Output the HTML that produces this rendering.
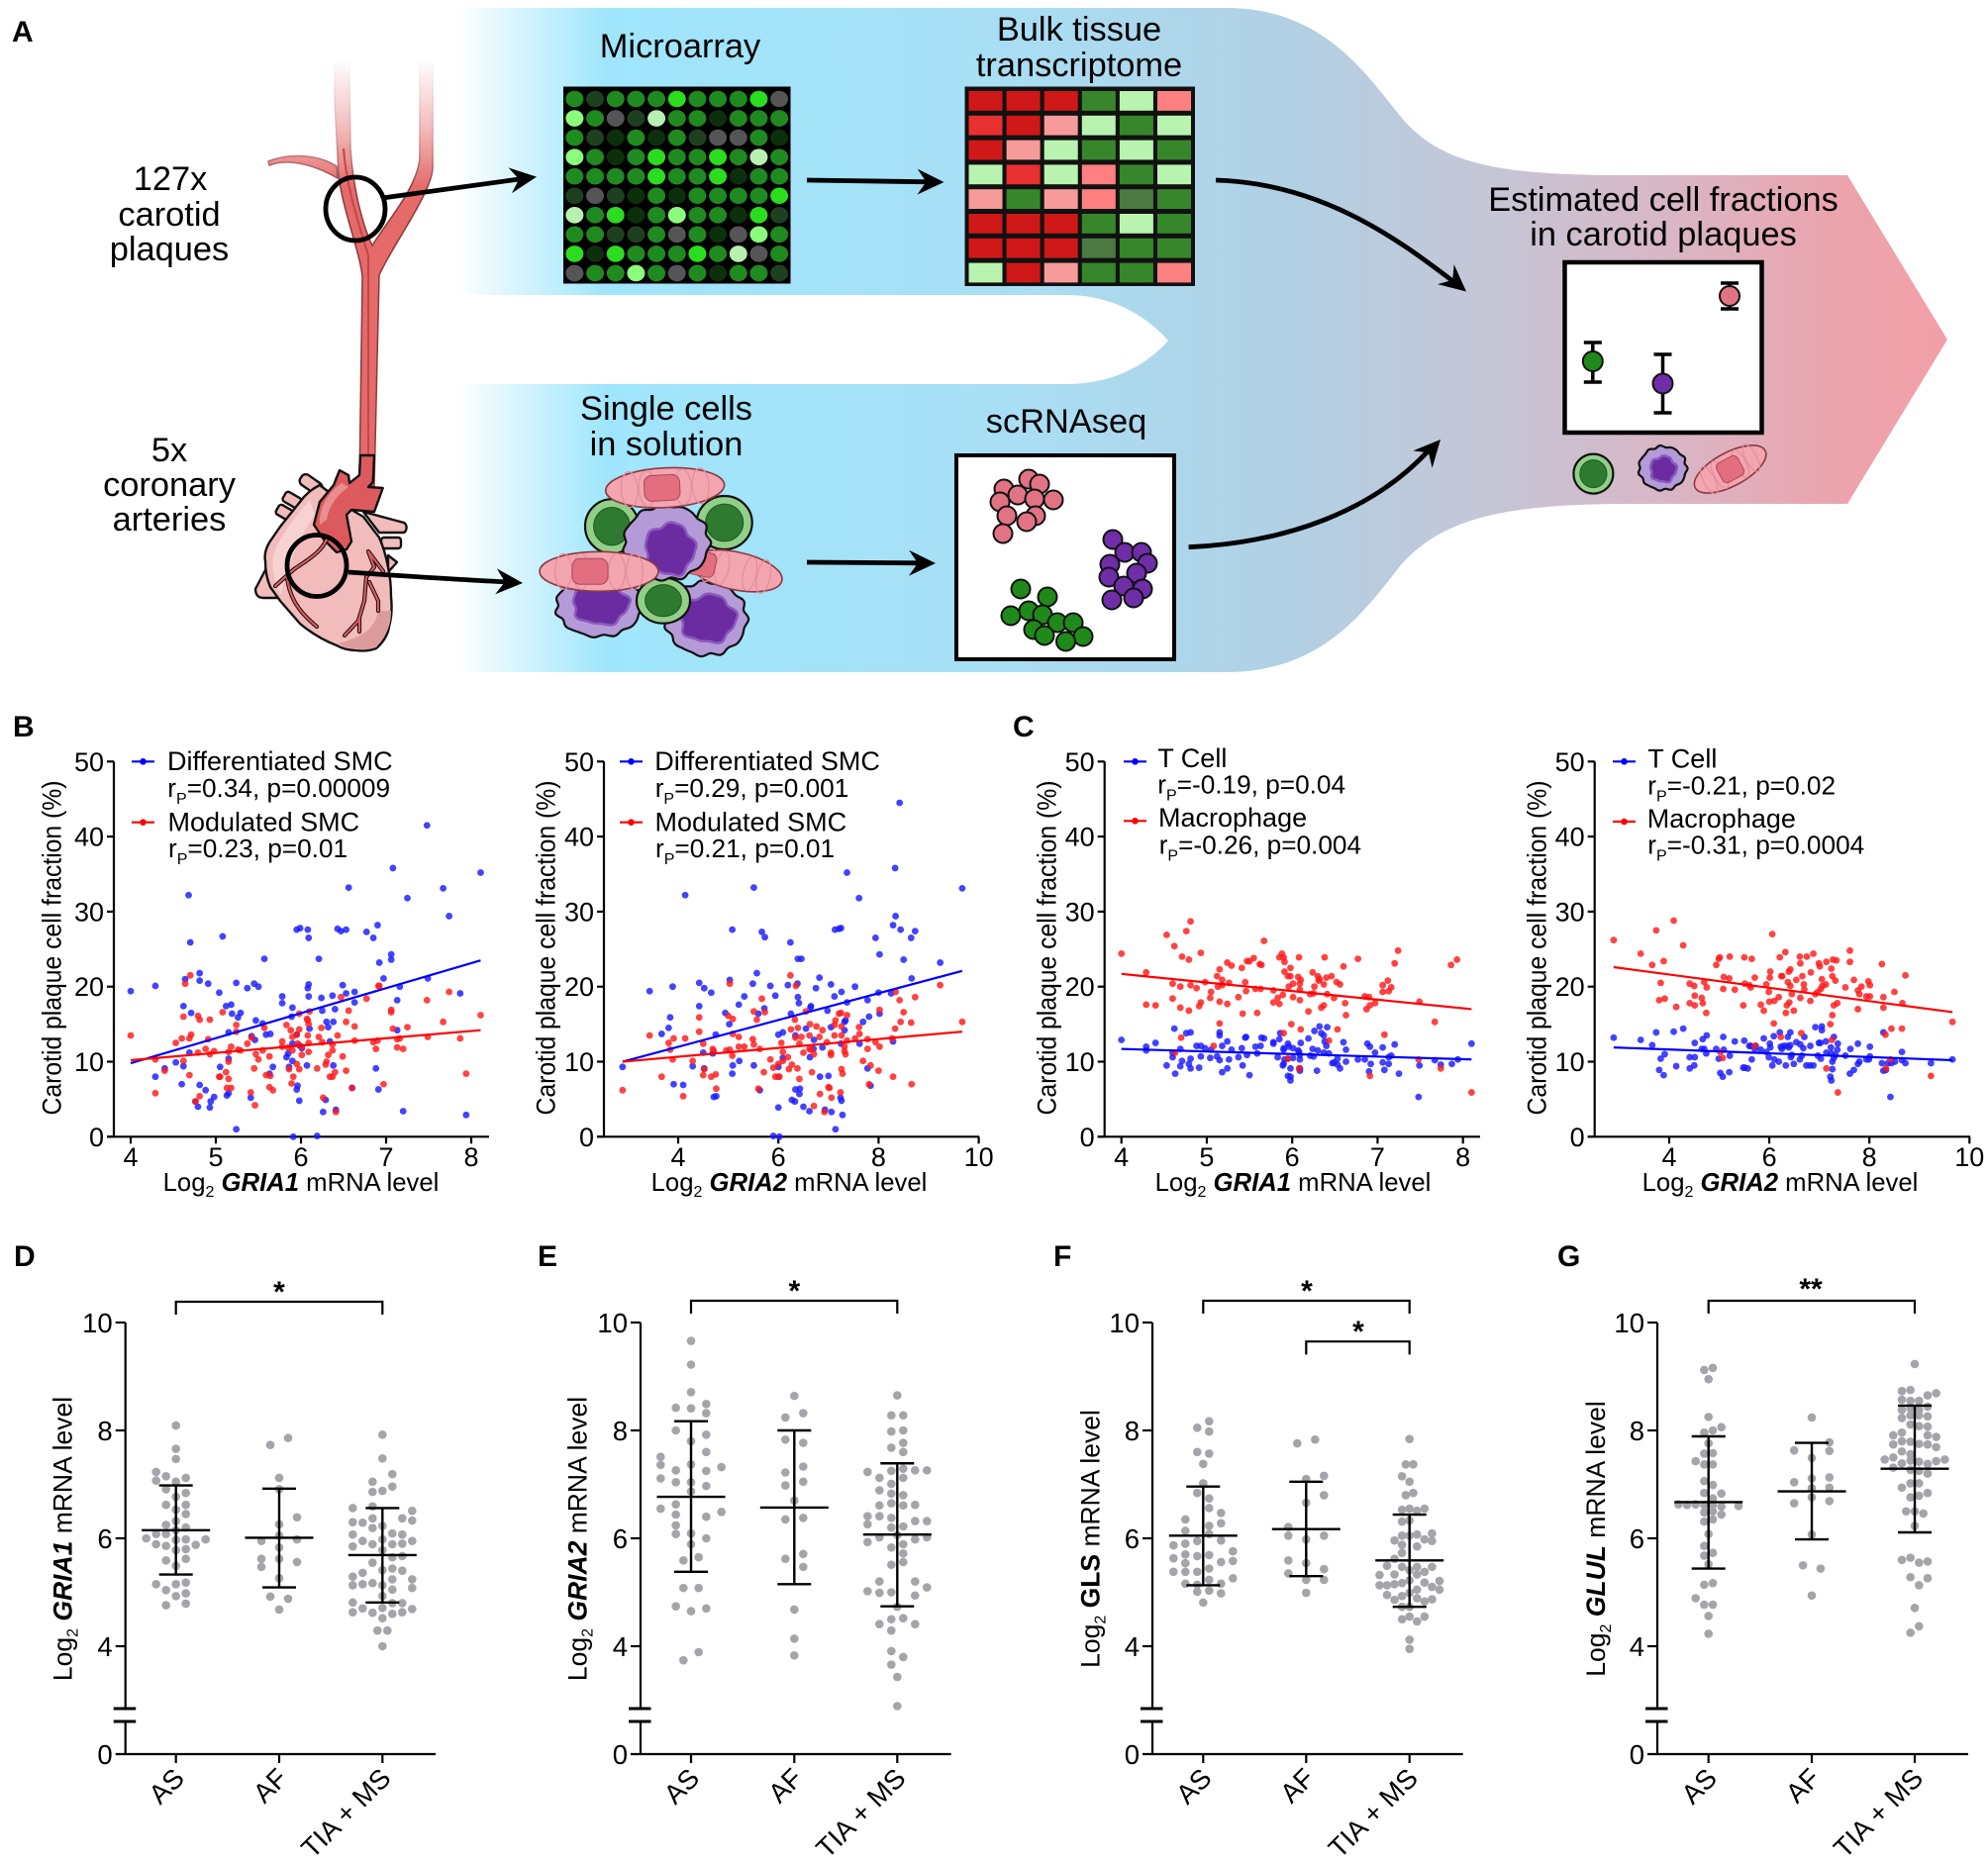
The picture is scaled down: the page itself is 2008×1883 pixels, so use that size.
<!DOCTYPE html>
<html lang="en">
<head>
<meta charset="utf-8">
<title>Carotid plaque cell fractions and GRIA1, GRIA2, GLS, GLUL expression</title>
<style>
html,body{margin:0;padding:0;background:#fff;}
svg{display:block;font-family:"Liberation Sans",Arial,sans-serif;fill:#000;}
.a{font-size:34.4px;text-anchor:middle;}
.tag{font-size:30px;font-weight:bold;}
.leg{font-size:27px;}
.legs{font-size:26.2px;}
.sub{font-size:16px;}
.xt{font-size:25.7px;text-anchor:middle;}
.yt{font-size:27px;text-anchor:middle;}
.st{font-size:26.5px;text-anchor:middle;}
.star{font-size:30px;font-weight:bold;text-anchor:middle;}
.i{font-weight:bold;font-style:italic;}
.b{font-weight:bold;}
</style>
</head>
<body>
<svg id="figure" xmlns="http://www.w3.org/2000/svg" width="2008" height="1883" viewBox="0 0 2008 1883">
<defs>
<linearGradient id="bandGrad" gradientUnits="userSpaceOnUse" x1="460" y1="0" x2="1967" y2="0">
<stop offset="0" stop-color="#ffffff"/><stop offset="0.101" stop-color="#9fe6fc"/><stop offset="0.36" stop-color="#a8dff5"/><stop offset="0.56" stop-color="#b2d0e4"/><stop offset="0.693" stop-color="#c5c6d6"/><stop offset="0.827" stop-color="#dbb4c3"/><stop offset="0.933" stop-color="#eca3ac"/><stop offset="1" stop-color="#f2a0a8"/>
</linearGradient>
<linearGradient id="arteryGrad" gradientUnits="userSpaceOnUse" x1="0" y1="60" x2="0" y2="190">
<stop offset="0" stop-color="#ffffff"/><stop offset="0.5" stop-color="#f4c0c0"/><stop offset="1" stop-color="#e56a6a"/>
</linearGradient>
<linearGradient id="arteryEdge" gradientUnits="userSpaceOnUse" x1="0" y1="60" x2="0" y2="190">
<stop offset="0" stop-color="#ffffff"/><stop offset="0.6" stop-color="#d9a0a0"/><stop offset="1" stop-color="#8a3a3a"/>
</linearGradient>
</defs>

<g id="panel-a">
<text class="tag" x="12" y="42">A</text>
<path fill="url(#bandGrad)" d="M460,8 L1238,8 C1335,8 1378,72 1414,117 C1455,167 1515,177 1645,177 L1866,177 L1967,343 L1866,509 L1645,509 C1515,509 1455,525 1414,572 C1378,618 1335,679 1238,679 L460,679 L460,388 L1077,388 C1122,388 1157,370 1180,344 C1157,318 1122,298 1077,298 L460,298 Z"/>

<g>
<path fill="url(#arteryGrad)" stroke="url(#arteryEdge)" stroke-width="1.5" d="M340,168 C320,155 290,155 271,163 L272,167 C290,160 315,165 341,180 Z"/>
<path fill="url(#arteryGrad)" stroke="url(#arteryEdge)" stroke-width="1.5" d="M338,30 L352,30 L354,150 C356,185 365,225 376,248 C392,222 421,190 424,160 L424,30 L437,30 L437,170 C436,195 395,250 383,278 L378,491 L363,491 L366,280 C364,255 345,210 342,175 L338,100 Z"/>
<path fill="none" stroke="#c04848" stroke-width="2" d="M347,150 C350,190 362,225 372,258 L372,480"/>
</g>

<g stroke="#111" stroke-width="2.4" stroke-linejoin="round">
<rect x="302" y="483" width="24" height="12" rx="5" transform="rotate(35 314 489)" fill="#f2bcbc"/>
<rect x="286" y="499.5" width="18" height="11" rx="3" transform="rotate(30 295 505)" fill="#f2bcbc"/>
<rect x="279" y="512" width="16" height="11" rx="3" transform="rotate(30 287 518)" fill="#f2bcbc"/>
<path fill="#f2bcbc" d="M367,517 L408,528 C412,530 411,538 407,538 L383,538 Z"/>
<rect x="385" y="543" width="20" height="11" rx="3" fill="#f2bcbc"/>
<path fill="#f2bcbc" d="M392,561 L401,568 L392,578 Z"/>
<path fill="#f2bcbc" d="M270,572 L258,595 C258,602 262,604 266,604 L280,604 Z"/>
<path fill="#f2bcbc" d="M323,490 C315,494 311,498 307,502 L283,532 L272,548 C268,555 267,562 268,567 C268,578 270,586 273,593 L283,607 L303,630 C315,640 327,647 340,652 C347,656 353,657 360,657 C368,658 375,657 380,655 C388,648 392,640 393,633 C396,622 396,612 395,603 C395,592 394,582 392,573 C390,562 387,552 383,543 L367,522 L355,515 Z"/>
<path fill="#dd9c9c" stroke="none" d="M342,650 C358,645 378,640 382,617 L395,617 C395,630 392,640 380,654 C368,658 352,657 342,650 Z"/>
<path fill="#f7d2d2" stroke="none" d="M313,505 C300,520 280,545 276,562 C274,580 280,595 284,600 C290,575 300,545 318,520 Z"/>
<path fill="#dc5a5e" d="M378,460 L376.7,487 L372,492 L386.7,493 L378,517 L355,515 L350,520 L355,547 L350,555 L340,558 L327,545 L317,530 L323,507 L337,490 L343,475 L352,480 L353,488 L363,480 L364,460 Z"/>
<path fill="#e88e90" stroke="none" d="M345,488 C330,498 322,515 323,530 L330,525 C332,512 340,500 352,492 Z"/>
<g fill="none" stroke-linecap="round">
<path stroke="#111" stroke-width="4.2" d="M330,545 C325,555 320,560 297,575 L278,592 M290,583 C292,600 298,615 320,633"/>
<path stroke="#dc5a5e" stroke-width="2.2" d="M330,545 C325,555 320,560 297,575 L278,592 M290,583 C292,600 298,615 320,633"/>
<path stroke="#111" stroke-width="4.2" d="M372,557 L387,577 M372,557 L378,573 L370,583 L368,607 L362,627 L348,642 M373,588 L382,607 L382,617 M363,623 L363,638"/>
<path stroke="#dc5a5e" stroke-width="2.2" d="M372,557 L387,577 M372,557 L378,573 L370,583 L368,607 L362,627 L348,642 M373,588 L382,607 L382,617 M363,623 L363,638"/>
</g>
</g>
<ellipse cx="359" cy="211" rx="30" ry="32" fill="none" stroke="#000" stroke-width="4.8"/>
<ellipse cx="320" cy="571.5" rx="30" ry="31" fill="none" stroke="#000" stroke-width="4.8"/>

<g>
<text class="a" x="172" y="192">127x</text>
<text class="a" x="171" y="228">carotid</text>
<text class="a" x="171" y="263">plaques</text>
<text class="a" x="171" y="466">5x</text>
<text class="a" x="171" y="501">coronary</text>
<text class="a" x="171" y="536">arteries</text>
</g>
<text class="a" x="687" y="58">Microarray</text>
<text class="a" x="1090" y="41">Bulk tissue</text>
<text class="a" x="1090" y="77">transcriptome</text>
<text class="a" x="673" y="424">Single cells</text>
<text class="a" x="673" y="460">in solution</text>
<text class="a" x="1077" y="437">scRNAseq</text>
<text class="a" x="1680" y="213">Estimated cell fractions</text>
<text class="a" x="1680" y="248">in carotid plaques</text>

<g id="microarray"></g>
<g id="bulkmap"></g>
<g id="cellpile"></g>

<g>
<rect x="966" y="460" width="220" height="206" fill="#fff" stroke="#000" stroke-width="4"/>
<g fill="#e27384" stroke="#111" stroke-width="2">
<circle cx="1039" cy="484" r="9.5"/><circle cx="1050" cy="489" r="9.5"/><circle cx="1014" cy="494" r="9.5"/><circle cx="1028" cy="500" r="9.5"/><circle cx="1010" cy="507" r="9.5"/><circle cx="1045" cy="504" r="9.5"/><circle cx="1064" cy="505" r="9.5"/><circle cx="1017" cy="521" r="9.5"/><circle cx="1046" cy="521" r="9.5"/><circle cx="1037" cy="527" r="9.5"/><circle cx="1013" cy="539" r="9.5"/>
</g>
<g fill="#6f2da8" stroke="#111" stroke-width="2">
<circle cx="1124" cy="545" r="9.5"/><circle cx="1136" cy="558" r="9.5"/><circle cx="1153" cy="558" r="9.5"/><circle cx="1159" cy="569" r="9.5"/><circle cx="1121" cy="570" r="9.5"/><circle cx="1148" cy="579" r="9.5"/><circle cx="1120" cy="583" r="9.5"/><circle cx="1135" cy="592" r="9.5"/><circle cx="1154" cy="595" r="9.5"/><circle cx="1145" cy="604" r="9.5"/><circle cx="1123" cy="606" r="9.5"/>
</g>
<g fill="#1f8a1a" stroke="#111" stroke-width="2">
<circle cx="1031" cy="595" r="9.5"/><circle cx="1058" cy="603" r="9.5"/><circle cx="1021" cy="622" r="9.5"/><circle cx="1039" cy="617" r="9.5"/><circle cx="1053" cy="621" r="9.5"/><circle cx="1044" cy="636" r="9.5"/><circle cx="1068" cy="629" r="9.5"/><circle cx="1084" cy="629" r="9.5"/><circle cx="1055" cy="642" r="9.5"/><circle cx="1094" cy="643" r="9.5"/><circle cx="1076.5" cy="648" r="9.5"/>
</g>
</g>

<g>
<rect x="1580.5" y="265" width="199" height="172" fill="#fff" stroke="#000" stroke-width="4.5"/>
<g stroke="#000" stroke-width="3.5" fill="none">
<path d="M1608.8,346 V386 M1599.8,346 H1617.8 M1599.8,386 H1617.8"/>
<path d="M1679.5,358 V417 M1670.5,358 H1688.5 M1670.5,417 H1688.5"/>
<path d="M1747,286 V312 M1738,286 H1756 M1738,312 H1756"/>
</g>
<circle cx="1608.8" cy="365" r="10" fill="#1f8a1a" stroke="#111" stroke-width="2"/>
<circle cx="1679.5" cy="387.5" r="10" fill="#6f2da8" stroke="#111" stroke-width="2"/>
<circle cx="1747" cy="299" r="10" fill="#e27384" stroke="#111" stroke-width="2"/>
</g>
<g id="legendcells"></g>

<g fill="none" stroke="#000" stroke-width="4.8">
<path d="M389,199.6 L528,180.5"/>
<path d="M815,182 L940,183.8"/>
<path d="M352,578 C410,582 470,586 515,588"/>
<path d="M815,568 L932,568.8"/>
<path d="M1228,182 C1332,185 1408,238 1470,286"/>
<path d="M1200.6,552.7 C1302,548 1388,515 1444,454"/>
</g>
<g fill="#000">
<path transform="translate(542,178.6) rotate(-7.8)" d="M0,0 L-27,-13 L-18,0 L-27,13 Z"/>
<path transform="translate(953.5,184) rotate(0.8)" d="M0,0 L-27,-13 L-18,0 L-27,13 Z"/>
<path transform="translate(528,589) rotate(3.6)" d="M0,0 L-27,-13 L-18,0 L-27,13 Z"/>
<path transform="translate(945,569) rotate(0.4)" d="M0,0 L-27,-13 L-18,0 L-27,13 Z"/>
<path transform="translate(1481,294.5) rotate(40)" d="M0,0 L-27,-13 L-18,0 L-27,13 Z"/>
<path transform="translate(1455,444) rotate(-48)" d="M0,0 L-27,-13 L-18,0 L-27,13 Z"/>
</g>
</g>

<g id="panel-b1">
<text class="tag" x="13" y="744">B</text>
<text class="yt" textLength="338" lengthAdjust="spacingAndGlyphs" transform="translate(61.7,957.5) rotate(-90)">Carotid plaque cell fraction (%)</text>
<text class="xt" x="304" y="1203">Log<tspan class="sub" dy="6">2</tspan><tspan dy="-6"> </tspan><tspan class="i">GRIA1</tspan> mRNA level</text>
<text class="leg" x="169" y="778">Differentiated SMC</text>
<text class="legs" x="169.3" y="805">r<tspan class="sub" dy="7">P</tspan><tspan dy="-7">=0.34, p=0.00009</tspan></text>
<text class="leg" x="169.5" y="839.3">Modulated SMC</text>
<text class="legs" x="170" y="866">r<tspan class="sub" dy="7">P</tspan><tspan dy="-7">=0.23, p=0.01</tspan></text>
</g>
<g id="panel-b2">
<text class="yt" textLength="338" lengthAdjust="spacingAndGlyphs" transform="translate(560.7,957.5) rotate(-90)">Carotid plaque cell fraction (%)</text>
<text class="xt" x="797" y="1203">Log<tspan class="sub" dy="6">2</tspan><tspan dy="-6"> </tspan><tspan class="i">GRIA2</tspan> mRNA level</text>
<text class="leg" x="661.3" y="778">Differentiated SMC</text>
<text class="legs" x="661.7" y="805">r<tspan class="sub" dy="7">P</tspan><tspan dy="-7">=0.29, p=0.001</tspan></text>
<text class="leg" x="661.5" y="839.3">Modulated SMC</text>
<text class="legs" x="662" y="866">r<tspan class="sub" dy="7">P</tspan><tspan dy="-7">=0.21, p=0.01</tspan></text>
</g>
<g id="panel-c1">
<text class="tag" x="1023" y="744">C</text>
<text class="yt" textLength="338" lengthAdjust="spacingAndGlyphs" transform="translate(1066.7,957.5) rotate(-90)">Carotid plaque cell fraction (%)</text>
<text class="xt" x="1306" y="1203">Log<tspan class="sub" dy="6">2</tspan><tspan dy="-6"> </tspan><tspan class="i">GRIA1</tspan> mRNA level</text>
<text class="leg" x="1169.3" y="775">T Cell</text>
<text class="legs" x="1169.3" y="801.7">r<tspan class="sub" dy="7">P</tspan><tspan dy="-7">=-0.19, p=0.04</tspan></text>
<text class="leg" x="1170" y="835">Macrophage</text>
<text class="legs" x="1170.7" y="862.3">r<tspan class="sub" dy="7">P</tspan><tspan dy="-7">=-0.26, p=0.004</tspan></text>
</g>
<g id="panel-c2">
<text class="yt" textLength="338" lengthAdjust="spacingAndGlyphs" transform="translate(1561.7,957.5) rotate(-90)">Carotid plaque cell fraction (%)</text>
<text class="xt" x="1798" y="1203">Log<tspan class="sub" dy="6">2</tspan><tspan dy="-6"> </tspan><tspan class="i">GRIA2</tspan> mRNA level</text>
<text class="leg" x="1664.3" y="775.7">T Cell</text>
<text class="legs" x="1664.3" y="802.3">r<tspan class="sub" dy="7">P</tspan><tspan dy="-7">=-0.21, p=0.02</tspan></text>
<text class="leg" x="1663.8" y="836">Macrophage</text>
<text class="legs" x="1664.3" y="862.7">r<tspan class="sub" dy="7">P</tspan><tspan dy="-7">=-0.31, p=0.0004</tspan></text>
</g>

<g id="panel-d">
<text class="tag" x="14" y="1279">D</text>
<text class="st" transform="translate(72.7,1554.5) rotate(-90)">Log<tspan class="sub" dy="6">2</tspan><tspan dy="-6"> </tspan><tspan class="i">GRIA1</tspan> mRNA level</text>
<path fill="none" stroke="#000" stroke-width="2.2" d="M177.7,1328 V1315 H386.3 V1328"/>
<text class="star" x="282" y="1315">*</text>
</g>
<g id="panel-e">
<text class="tag" x="543" y="1279">E</text>
<text class="st" transform="translate(592.7,1554.5) rotate(-90)">Log<tspan class="sub" dy="6">2</tspan><tspan dy="-6"> </tspan><tspan class="i">GRIA2</tspan> mRNA level</text>
<path fill="none" stroke="#000" stroke-width="2.2" d="M698,1327 V1314 H906.3 V1327"/>
<text class="star" x="802.3" y="1314">*</text>
</g>
<g id="panel-f">
<text class="tag" x="1064" y="1279">F</text>
<text class="st" transform="translate(1110.7,1554.5) rotate(-90)">Log<tspan class="sub" dy="6">2</tspan><tspan dy="-6"> </tspan><tspan class="b">GLS</tspan> mRNA level</text>
<path fill="none" stroke="#000" stroke-width="2.2" d="M1215.3,1327 V1314 H1423.7 V1327"/>
<text class="star" x="1320" y="1314">*</text>
<path fill="none" stroke="#000" stroke-width="2.2" d="M1319.3,1368.4 V1355.2 H1423.7 V1368.4"/>
<text class="star" x="1372" y="1355">*</text>
</g>
<g id="panel-g">
<text class="tag" x="1573" y="1279">G</text>
<text class="st" transform="translate(1621,1554.5) rotate(-90)">Log<tspan class="sub" dy="6">2</tspan><tspan dy="-6"> </tspan><tspan class="i">GLUL</tspan> mRNA level</text>
<path fill="none" stroke="#000" stroke-width="2.2" d="M1725.7,1327 V1314 H1934 V1327"/>
<text class="star" x="1829" y="1312">**</text>
</g>
</svg>

<script>
// ---------- Scatter values [mRNA level, cell fraction %] ----------
const b1DiffSmc=[[4,19.4],[4.29,20.1],[4.29,8],[4.4,9.1],[4.53,9.9],[4.62,17.4],[4.64,21],[4.62,9.4],[4.6,7],[4.68,32.2],[4.7,25.9],[4.71,16.5],[4.69,11.2],[4.76,4.7],[4.79,4],[4.81,20.8],[4.81,21.8],[4.81,6.9],[4.88,6.2],[4.91,20.4],[4.94,4.7],[4.93,3.9],[4.98,5.3],[5.04,19.2],[5.05,9.3],[5.08,26.7],[5.12,17.4],[5.15,10.4],[5.15,13.9],[5.13,5.5],[5.15,5.8],[5.18,17.6],[5.19,16.4],[5.24,20.5],[5.24,1],[5.26,15.9],[5.29,16.5],[5.37,19.8],[5.45,20.4],[5.5,20],[5.47,15.5],[5.41,5.2],[5.42,13.4],[5.46,12.9],[5.57,23.7],[5.55,15.1],[5.59,13.6],[5.64,13.7],[5.63,8.4],[5.67,9.3],[5.78,18.7],[5.78,17.8],[5.83,10.6],[5.85,11.1],[5.86,9.3],[5.9,17.2],[5.89,16],[5.9,10.1],[5.9,12.4],[5.91,0],[5.95,27.6],[5.99,27.8],[5.95,6.3],[5.96,6.8],[5.95,13.6],[5.98,4.8],[5.98,12.2],[6.01,11.8],[6.07,9.5],[6.08,27.6],[6.09,26.5],[6.08,19.8],[6.09,20.3],[6.09,18.7],[6.1,14.4],[6.19,0.1],[6.21,23.7],[6.24,18.5],[6.25,16.8],[6.26,3.3],[6.29,4.9],[6.3,15.3],[6.32,14.6],[6.34,12.7],[6.37,18.8],[6.38,15.3],[6.38,9.5],[6.4,17],[6.41,3.6],[6.43,27.7],[6.47,27.4],[6.49,20.2],[6.53,19.1],[6.53,27.6],[6.56,33.2],[6.6,6.5],[6.63,19.3],[6.63,17.9],[6.77,27.3],[6.85,26.5],[6.88,9.1],[6.9,28.2],[6.91,6.3],[6.92,23.2],[6.97,21.1],[7.06,24.3],[7.06,23.6],[7.08,35.8],[7.13,18.2],[7.13,14.2],[7.16,20],[7.2,3.4],[7.25,31.8],[7.48,41.5],[7.49,21.1],[7.67,33.1],[7.74,29.4],[7.87,19.1],[7.94,2.9],[8.11,35.2]];
const b1ModSmc=[[4,13.5],[4.29,10.3],[4.29,5.8],[4.4,8.8],[4.53,12.5],[4.6,13.1],[4.62,16],[4.64,20.4],[4.62,10.1],[4.69,13.1],[4.71,13.6],[4.7,21.5],[4.69,8.2],[4.76,4.7],[4.79,16.1],[4.81,15.6],[4.79,11.2],[4.81,5.4],[4.88,11.7],[4.91,13],[4.93,15.6],[4.93,11],[4.98,11.4],[5.04,8],[5.05,8],[5.08,16.6],[5.12,8.6],[5.15,7.7],[5.15,10],[5.13,6.5],[5.15,11.3],[5.18,6.5],[5.18,12],[5.24,14.9],[5.24,14],[5.26,11.6],[5.29,11.5],[5.37,12.4],[5.41,5.9],[5.42,13.2],[5.45,9.1],[5.46,4.2],[5.47,11],[5.5,10.3],[5.55,11.5],[5.57,14.5],[5.59,8.2],[5.63,10.7],[5.63,6.6],[5.64,8.1],[5.67,6.2],[5.78,12.7],[5.78,12],[5.83,14.9],[5.85,11.9],[5.86,9],[5.88,14.2],[5.89,7.1],[5.9,13.3],[5.9,11.5],[5.91,8],[5.95,13.6],[5.95,9.7],[5.96,12.4],[5.98,14.3],[5.98,9],[5.98,16.4],[6.01,10.9],[6.01,12],[6.07,15.7],[6.08,15.5],[6.09,15],[6.08,13.5],[6.09,12.5],[6.09,11.3],[6.1,16.7],[6.19,9.1],[6.21,13.3],[6.24,14.5],[6.25,12.6],[6.26,5.2],[6.29,9.6],[6.3,10],[6.32,10.9],[6.34,8],[6.37,8],[6.37,11.5],[6.37,12.3],[6.4,8.6],[6.41,3.3],[6.43,13.5],[6.47,18.6],[6.49,10.7],[6.53,8.8],[6.53,15.3],[6.56,16.8],[6.6,6.5],[6.63,14.7],[6.63,12.8],[6.77,18.4],[6.85,12.6],[6.88,11.7],[6.9,12.8],[6.91,20.1],[6.92,20.1],[6.97,7],[7.06,16.9],[7.06,16.6],[7.08,14.4],[7.13,11.9],[7.13,13],[7.16,13.1],[7.2,11.7],[7.25,14.6],[7.48,18.2],[7.49,13.3],[7.67,15.3],[7.74,19.3],[7.87,13.1],[7.94,8.4],[8.11,16.2]];
const b2DiffSmc=[[2.89,9.3],[3.43,19.4],[3.67,13.7],[3.81,14.5],[3.84,15.9],[3.89,20],[3.91,7],[4.1,6.9],[4.14,32.2],[4.29,9.4],[4.42,20.5],[4.42,17.4],[4.5,11.2],[4.52,9.1],[4.52,19.8],[4.66,19.2],[4.69,11.1],[4.71,5.3],[4.76,5.4],[4.75,13.6],[4.94,16.5],[5.02,15],[5.03,20.9],[5.08,8.4],[5.09,9.5],[5.08,27.6],[5.21,17.6],[5.22,10.1],[5.32,18.7],[5.49,20.4],[5.51,9.5],[5.51,33.2],[5.57,21.8],[5.6,16.4],[5.63,6.2],[5.67,27.3],[5.72,17.1],[5.73,26.6],[5.84,20.1],[5.9,0.1],[5.94,18.8],[6,3.9],[6,13.6],[6,9.3],[6.02,0],[6.09,13.9],[6.09,10.5],[6.19,20.2],[6.24,25.9],[6.25,16.4],[6.27,4.9],[6.33,4.7],[6.34,13.5],[6.34,6.3],[6.38,20.4],[6.39,23.7],[6.46,23.7],[6.39,18.6],[6.41,17.8],[6.43,6.4],[6.42,5.7],[6.5,4],[6.55,14.4],[6.62,3.4],[6.63,10.6],[6.65,17.4],[6.64,17.2],[6.7,11.7],[6.71,12.9],[6.75,19.8],[6.82,21.2],[6.83,8],[6.88,11.9],[6.93,3.6],[6.98,16.8],[7,8.1],[7.05,20.3],[7.06,3.3],[7.05,14.6],[7.12,18.7],[7.13,27.6],[7.14,1],[7.21,27.7],[7.25,27.8],[7.24,5.2],[7.26,4.8],[7.28,2.9],[7.26,19.3],[7.25,12.4],[7.32,15.3],[7.32,14.2],[7.34,15.5],[7.37,35.2],[7.37,17.9],[7.53,20],[7.61,31.8],[7.62,12.4],[7.69,15.3],[7.78,18.2],[7.78,9.1],[7.81,16],[7.84,6.8],[7.94,26.5],[8,19.2],[8.02,24.3],[8.02,16.4],[8.25,19.1],[8.29,12.7],[8.29,28.2],[8.33,35.8],[8.34,29.4],[8.42,44.5],[8.44,27.6],[8.5,23.6],[8.65,26.5],[8.66,21.1],[8.73,27.4],[9.23,23.2],[9.67,33.1]];
const b2ModSmc=[[2.89,6.2],[3.43,13.5],[3.67,8],[3.81,12.5],[3.84,11.6],[3.89,10.3],[3.91,13.1],[4.1,5.4],[4.14,13.1],[4.29,10.1],[4.42,15.9],[4.42,14],[4.5,12.4],[4.5,8.2],[4.52,9],[4.66,8],[4.69,11.7],[4.71,11.4],[4.75,8.3],[4.76,6.4],[4.96,11.5],[5,16.1],[5.03,20.4],[5.03,11.6],[5.09,15.7],[5.09,13.7],[5.08,10.8],[5.21,12],[5.21,13.3],[5.32,12],[5.49,13],[5.51,16.7],[5.51,12.3],[5.57,15.6],[5.6,6.4],[5.63,11.7],[5.67,18.4],[5.71,8.6],[5.73,16.6],[5.84,10.3],[5.9,9.2],[5.94,8],[6,8],[6.02,8],[6,9.7],[6.06,12.5],[6.09,11.3],[6.09,10.1],[6.19,10.6],[6.21,9],[6.24,21.5],[6.25,14.3],[6.27,9.6],[6.33,15.6],[6.34,13.2],[6.35,20.1],[6.38,9.1],[6.39,14.5],[6.42,12.4],[6.42,7.7],[6.46,13.3],[6.5,11.2],[6.55,16.7],[6.62,11.7],[6.63,15],[6.62,13.5],[6.65,11.6],[6.67,8.6],[6.71,4.1],[6.71,11],[6.76,14.7],[6.82,13.3],[6.83,5.7],[6.88,14.2],[6.92,3.3],[6.97,12.6],[7,6.6],[7.02,6.5],[7.05,11.2],[7.05,10.9],[7.06,5.2],[7.12,14.9],[7.12,13.5],[7.14,15.5],[7.21,16.4],[7.25,16.5],[7.24,5.9],[7.26,13.5],[7.26,9],[7.28,8.4],[7.26,14.7],[7.32,11.4],[7.32,12],[7.34,11],[7.37,16.2],[7.37,12.8],[7.53,13.1],[7.61,14.6],[7.62,13.7],[7.69,10.1],[7.78,13],[7.78,11.7],[7.81,7],[7.84,9.5],[7.94,12.6],[8,8.8],[8.02,12],[8.02,16.9],[8.27,13.1],[8.29,8],[8.33,14.4],[8.34,19.3],[8.42,18.2],[8.44,15.3],[8.5,16.6],[8.65,15.2],[8.66,7],[8.73,18.6],[9.23,20.2],[9.67,15.3]];
const c1TCell=[[4,12.9],[4.29,12],[4.29,11.5],[4.4,12.5],[4.53,9.5],[4.6,11.2],[4.62,14.4],[4.63,8.4],[4.6,10.6],[4.69,9.4],[4.69,11.7],[4.71,10.1],[4.76,13.8],[4.81,10.4],[4.79,9.7],[4.81,13.9],[4.81,9.1],[4.88,12.1],[4.91,9.2],[4.93,12.1],[4.93,10.7],[4.98,11.8],[5.04,10.5],[5.05,11.6],[5.12,10.7],[5.15,13.5],[5.15,13.9],[5.15,10.2],[5.18,12.1],[5.18,8.6],[5.24,12.7],[5.24,9.1],[5.26,10.3],[5.29,11.6],[5.37,10.6],[5.41,11.8],[5.42,9.5],[5.45,13.2],[5.46,13.3],[5.47,10.9],[5.5,8.2],[5.57,12],[5.59,11.1],[5.64,13.2],[5.63,12.1],[5.67,13.1],[5.78,12.4],[5.78,12.6],[5.85,13],[5.83,10.6],[5.86,13.8],[5.9,11.6],[5.9,11.8],[5.89,9.5],[5.9,9.7],[5.91,10.3],[5.95,12.4],[5.96,12],[5.95,10.4],[5.95,8.1],[5.98,8],[5.98,7.5],[5.98,9.1],[6.01,11.8],[6.01,10.5],[6.07,11.5],[6.08,11.3],[6.09,10.9],[6.09,10.3],[6.09,9.1],[6.09,8.8],[6.1,12.5],[6.19,13.1],[6.21,10.8],[6.24,11.7],[6.25,10.7],[6.26,14.1],[6.29,8.8],[6.3,11.5],[6.32,14.7],[6.34,13.8],[6.37,13.5],[6.38,12.7],[6.37,11.2],[6.4,12.1],[6.41,14.6],[6.43,11.1],[6.47,9.8],[6.49,9.9],[6.53,10.4],[6.53,9.6],[6.56,9.1],[6.6,12.6],[6.63,11.6],[6.63,10],[6.77,10.3],[6.85,10.3],[6.88,12.4],[6.9,8.7],[6.91,12],[6.92,9.7],[6.97,11.2],[7.06,11.9],[7.06,9.9],[7.08,8.9],[7.13,9.7],[7.13,10.6],[7.16,10.8],[7.2,12.3],[7.25,8.4],[7.48,5.3],[7.49,9.5],[7.67,10.2],[7.74,9.6],[7.87,9.7],[7.94,10.3],[8.1,12.4]];
const c1Macrophage=[[4,24.4],[4.29,21.9],[4.29,17.6],[4.4,17.5],[4.53,26.9],[4.6,20.4],[4.6,18.4],[4.62,25.4],[4.63,11.2],[4.69,17.2],[4.69,20],[4.7,13.2],[4.71,24],[4.76,27.4],[4.79,23.6],[4.79,16.8],[4.81,28.7],[4.81,20.2],[4.88,19.8],[4.91,17.4],[4.93,24.5],[4.93,17.9],[4.98,20.6],[5.04,18.5],[5.05,19.3],[5.08,12.1],[5.12,21.4],[5.15,15.1],[5.15,22.3],[5.13,20],[5.15,18],[5.18,20.9],[5.18,20.2],[5.24,23.2],[5.24,17.7],[5.26,20.5],[5.29,22.8],[5.37,18.6],[5.41,22.5],[5.42,16.4],[5.45,20.6],[5.46,19.4],[5.47,23.4],[5.5,23.4],[5.55,23.8],[5.57,19.7],[5.59,16.5],[5.63,19.7],[5.62,23],[5.64,22.9],[5.67,26.1],[5.78,19.5],[5.78,17.9],[5.83,18.5],[5.85,17.7],[5.85,23.9],[5.88,24.4],[5.9,23.9],[5.89,18.9],[5.9,13.8],[5.91,23.3],[5.91,22],[5.95,21.4],[5.96,20],[5.95,10.4],[5.98,22.5],[5.98,21.4],[5.99,15],[6.01,18.6],[6.01,20.4],[6.07,21.3],[6.08,9.1],[6.08,23.9],[6.09,20.4],[6.09,19.6],[6.09,18.2],[6.1,14.3],[6.1,20.9],[6.19,16.7],[6.21,19],[6.24,21.9],[6.25,19.1],[6.26,20],[6.3,21.4],[6.31,20.8],[6.32,21],[6.34,17.2],[6.37,17.5],[6.37,20.3],[6.38,23.9],[6.4,21.2],[6.41,19],[6.43,12.8],[6.46,21.4],[6.49,18.5],[6.52,20.6],[6.53,14.3],[6.56,20.3],[6.6,22.7],[6.62,17.8],[6.63,16.2],[6.77,23.7],[6.85,18.7],[6.87,17],[6.9,18.6],[6.91,17.5],[6.91,8.1],[6.97,17.8],[7.06,20.2],[7.06,19.3],[7.08,13.6],[7.12,20.8],[7.13,19.4],[7.16,19.9],[7.2,23.1],[7.24,24.8],[7.48,10.3],[7.49,18],[7.67,15.3],[7.74,9.1],[7.86,22.9],[7.93,23.6],[8.1,5.9]];
const c2TCell=[[2.89,13.2],[3.43,12.9],[3.66,12.2],[3.74,13.9],[3.8,8.9],[3.83,10.4],[3.89,8.2],[3.91,11],[4.09,14],[4.14,9.4],[4.28,14.4],[4.41,10.6],[4.41,9.1],[4.5,9.5],[4.51,12.5],[4.51,10.6],[4.65,11.7],[4.67,13],[4.7,11.7],[4.74,11.1],[4.75,13.5],[4.94,11.7],[4.99,10.4],[5.02,8.5],[5.08,13.3],[5.07,8],[5.09,11.6],[5.2,8.6],[5.21,10.8],[5.31,12.7],[5.48,9.2],[5.5,12.8],[5.51,9.2],[5.57,9.1],[5.6,12.1],[5.63,12.1],[5.65,10.3],[5.71,11.7],[5.73,12.1],[5.83,11.6],[5.89,13.1],[5.94,11.3],[5.99,10.6],[6.01,12.4],[6.02,11.9],[6.06,9.5],[6.09,13.4],[6.1,10.3],[6.19,10],[6.21,13.9],[6.23,12],[6.25,11.7],[6.29,12.1],[6.33,9.5],[6.35,12.1],[6.37,13.3],[6.39,11.9],[6.42,13.9],[6.42,12.2],[6.43,10.6],[6.45,10.9],[6.49,9.7],[6.54,12.6],[6.62,12.3],[6.61,10.3],[6.65,10.8],[6.68,11.8],[6.7,13.3],[6.74,9.5],[6.82,12.1],[6.81,9.5],[6.88,9.5],[6.92,14.6],[6.97,10.8],[6.99,12.5],[7.02,12.5],[7.03,10.4],[7.05,14.7],[7.05,14.2],[7.13,12.7],[7.14,11.2],[7.22,8],[7.24,7.5],[7.26,9],[7.23,11.9],[7.26,10],[7.24,11.1],[7.29,13.3],[7.29,10.5],[7.32,10.9],[7.36,11.6],[7.37,12.4],[7.52,10.8],[7.61,8.4],[7.62,11.7],[7.69,8.9],[7.77,12.4],[7.77,9.7],[7.8,10],[7.94,10.3],[7.99,10.3],[8.01,12],[8.01,10.7],[8.25,9.8],[8.28,13.9],[8.28,8.8],[8.33,8.9],[8.37,9.8],[8.42,5.3],[8.44,9.8],[8.51,10],[8.65,11.3],[8.65,10.2],[8.72,9.8],[9.23,9.8],[9.66,10.3]];
const c2Macrophage=[[2.89,26.2],[3.43,24.4],[3.66,22.9],[3.74,27.5],[3.8,18.2],[3.83,20.5],[3.89,23.4],[3.91,18.4],[4.09,28.8],[4.14,17.3],[4.28,25.5],[4.41,20.4],[4.41,17.8],[4.5,20.1],[4.51,18.8],[4.51,17.5],[4.65,18.5],[4.67,17.8],[4.7,20.6],[4.74,16.5],[4.75,19.9],[4.94,22.9],[4.99,23.7],[5.01,23.9],[5.02,11.3],[5.08,19.7],[5.09,21.3],[5.07,10.5],[5.2,21.1],[5.21,24],[5.31,19.6],[5.48,17.5],[5.5,23.9],[5.51,20.4],[5.6,20.2],[5.63,19.9],[5.65,23.7],[5.71,21.2],[5.71,12.1],[5.83,17.6],[5.89,16.8],[5.94,20.3],[5.99,19.3],[6.01,21.2],[6.02,22],[6,18],[6.06,27],[6.09,15.1],[6.1,18.1],[6.19,18.6],[6.21,23.9],[6.23,13.3],[6.24,21.4],[6.26,21.4],[6.32,24.6],[6.33,16.5],[6.35,17.5],[6.37,20.6],[6.39,22],[6.42,22.3],[6.4,17.9],[6.42,20.1],[6.45,19],[6.49,16.8],[6.54,20.9],[6.61,24],[6.62,23.1],[6.62,18.5],[6.64,13.8],[6.66,21.4],[6.69,20.3],[6.7,19.6],[6.75,24],[6.82,18.1],[6.83,21.9],[6.88,24.4],[6.92,19],[6.97,19.3],[6.99,23.1],[7.01,22.7],[7.03,19.7],[7.05,21],[7.06,20.1],[7.13,20.3],[7.14,23.3],[7.14,9.1],[7.22,15],[7.24,22.4],[7.26,16.2],[7.26,21.4],[7.25,12.9],[7.27,23.6],[7.29,17.5],[7.32,20.8],[7.34,23.5],[7.37,5.9],[7.36,17.8],[7.52,19.9],[7.61,24.8],[7.61,23.3],[7.69,20.9],[7.77,17],[7.77,19.5],[7.8,19],[7.84,20],[7.94,18.7],[7.98,20.7],[8.01,20.2],[8.01,18.7],[8.25,23],[8.28,18.6],[8.28,17.2],[8.32,13.6],[8.33,9.1],[8.42,10.3],[8.44,14.4],[8.5,19.3],[8.65,14.4],[8.66,17.8],[8.72,21.5],[9.23,8.1],[9.66,15.3]];
// Regression line end points
const b1DiffFit=[[4,9.8],[8.11,23.5]];
const b1ModFit=[[4,10.2],[8.11,14.2]];
const b2DiffFit=[[2.89,10],[9.67,22.1]];
const b2ModFit=[[2.89,10],[9.67,14]];
const c1TCellFit=[[4,11.7],[8.1,10.3]];
const c1MacFit=[[4,21.7],[8.1,17]];
const c2TCellFit=[[2.89,11.9],[9.66,10.2]];
const c2MacFit=[[2.89,22.6],[9.66,16.6]];
// Tick labels
const fractionTicks=[0,10,20,30,40,50];
const gria1Ticks=[4,5,6,7,8];
const gria2Ticks=[4,6,8,10];
const logTicks=[10,8,6,4];
const groupNames=['AS','AF','TIA + MS'];

// ---------- Group values [swarm slot, log2 level] ----------
const dAS=[[0,8.09],[0,7.66],[0,7.47],[-2,7.23],[-1,7.15],[1,7.12],[-2,7.07],[0,7.05],[-1,6.91],[1,6.84],[0,6.77],[-1,6.62],[1,6.62],[0,6.53],[1,6.45],[0,6.32],[-1,6.25],[1,6.2],[0,6.15],[-2,6.08],[-1,6.08],[-3,6],[0,5.97],[1,5.98],[3,5.98],[-2,5.89],[-1,5.86],[2,5.88],[0,5.78],[1,5.8],[-1,5.59],[1,5.62],[0,5.49],[-2,5.15],[0,5.15],[1,5.18],[-1,5.04],[1,4.98],[0,4.93],[-1,4.76],[1,4.79]];
const dAF=[[1,7.86],[-1,7.73],[0,7.12],[0,6.91],[2,6.39],[0,6.26],[0,6.05],[-2,5.95],[2,5.98],[0,5.83],[-2,5.62],[0,5.62],[2,5.56],[-2,5.47],[0,5.26],[-1,4.92],[1,4.88],[0,4.68]];
const dTIA=[[0,7.92],[0,7.48],[1,7.19],[-1,7.05],[1,6.96],[-1,6.86],[0,6.88],[-3,6.56],[-1,6.59],[3,6.51],[-1,6.37],[2,6.37],[3,6.33],[-3,6.3],[-2,6.29],[0,6.23],[-1,6.19],[-3,6.07],[1,6.09],[2,6.07],[0,5.98],[-2,5.95],[-1,5.89],[1,5.89],[2,5.9],[3,5.95],[-3,5.85],[0,5.78],[1,5.65],[2,5.67],[-1,5.55],[1,5.44],[0,5.41],[2,5.4],[-2,5.36],[-3,5.29],[1,5.24],[3,5.24],[-1,5.17],[-3,5.13],[-2,5.15],[0,5.13],[1,5.05],[3,5.08],[0,4.93],[-3,4.81],[1,4.8],[2,4.8],[0,4.71],[-2,4.7],[3,4.69],[-3,4.63],[-1,4.62],[1,4.6],[2,4.63],[0,4.52],[-0.5,4.29],[0.5,4.29],[0,4]];
const dMeans=[6.15,6.01,5.69];
const dUpper=[6.98,6.92,6.56];
const dLower=[5.33,5.09,4.81];
const eAS=[[0,9.66],[0,9.22],[0,8.71],[-2,8.42],[0,8.41],[2,8.49],[2,8.32],[-2,8],[2,7.92],[0,7.8],[2,7.6],[-4,7.51],[-4,7.36],[0,7.37],[4,7.32],[-2,7.26],[2,7.25],[-4,7.11],[-2,7.04],[0,7.04],[2,6.97],[0,6.87],[-4,6.55],[-2,6.63],[4,6.49],[-2,6.44],[2,6.4],[-2,6.24],[-2,6.08],[0,6.09],[2,6],[0,5.89],[1,5.65],[-1,5.59],[-1,5.08],[1,5.08],[-2,4.74],[2,4.7],[0,4.65],[1,3.89],[-1,3.74]];
const eAF=[[0,8.64],[1,8.32],[-1,8.24],[-1,7.83],[1,7.77],[1,7.33],[-1,7.22],[1,7.05],[-1,6.98],[0,6.7],[-1,6.35],[1,6.38],[1,5.71],[-1,5.62],[1,5.47],[0,4.68],[0,4.14],[0,3.83]];
const eTIA=[[0,8.65],[-1,8.28],[1,8.28],[-1,7.98],[1,8],[1,7.77],[-1,7.68],[1,7.6],[-5,7.23],[-3,7.12],[-1,7.25],[1,7.29],[1,7.12],[3,7.26],[5,7.26],[-1,7.01],[-3,6.89],[-1,6.83],[1,6.8],[-3,6.61],[-1,6.65],[1,6.61],[3,6.62],[-5,6.41],[-3,6.41],[-1,6.38],[3,6.32],[5,6.32],[-5,6.26],[1,6.22],[-1,6.2],[-3,6.02],[0,6.06],[3,5.98],[5,6.02],[-5,5.93],[1,5.89],[-1,5.83],[1,5.72],[1,5.56],[-1,5.51],[-3,5.2],[3,5.2],[5,5.09],[-5,5.02],[-3,4.99],[-1,5],[3,4.94],[0,4.73],[-1,4.5],[1,4.52],[-3,4.41],[3,4.41],[-1,4.29],[-1,3.91],[1,3.8],[-1,3.66],[0,3.43],[0,2.89]];
const eMeans=[6.77,6.57,6.07];
const eUpper=[8.17,8,7.39];
const eLower=[5.38,5.15,4.74];
const fAS=[[1,8.17],[-1,8.05],[1,7.98],[-1,7.6],[1,7.57],[0,7.38],[0,7.02],[-1,6.84],[1,6.74],[1,6.56],[3,6.47],[-3,6.35],[3,6.28],[1,6.23],[-3,6.14],[1,6.08],[-1,5.95],[-3,5.9],[3,5.96],[-5,5.87],[5,5.76],[1,5.69],[-3,5.7],[-1,5.67],[-5,5.63],[5,5.58],[3,5.56],[-3,5.54],[1,5.44],[-5,5.38],[-3,5.38],[-1,5.38],[5,5.26],[1,5.23],[-3,5.16],[3,5.16],[-1,5.14],[-1,5.01],[1,5.03],[3,4.98],[0,4.81]];
const fAF=[[1,7.83],[-1,7.76],[0,7.1],[2,7.16],[2,6.8],[0,6.66],[-2,6.21],[-2,6.05],[2,6.05],[0,5.98],[-2,5.59],[0,5.54],[2,5.43],[-2,5.35],[0,5.23],[2,5.23],[0,4.99]];
const fTIA=[[0,7.84],[-0.5,7.37],[0.5,7.37],[-1,7.15],[0,7.05],[-0.5,6.8],[0.5,6.84],[-1,6.53],[0,6.55],[1,6.51],[2,6.55],[-1,6.31],[0,6.33],[-1,6.05],[0,6.05],[1,6.07],[-2,5.96],[3,6.09],[2,5.98],[3,5.95],[-1,5.88],[1,5.85],[-1,5.73],[-2,5.62],[-3,5.49],[-1,5.47],[1,5.47],[3,5.47],[0,5.41],[2,5.38],[-4,5.32],[-2,5.33],[1,5.33],[0,5.22],[2,5.18],[4,5.21],[-4,5.13],[-3,5.13],[-2,5.15],[-1,5.17],[1,5.05],[3,5.1],[4,5.05],[-3,4.95],[-2,4.86],[-1,4.93],[0,4.99],[1,4.89],[2,4.83],[3,4.87],[-1,4.73],[0,4.73],[-1,4.5],[0,4.55],[1,4.46],[2,4.55],[0,4.12],[0,3.95]];
const fMeans=[6.05,6.17,5.59];
const fUpper=[6.96,7.05,6.44];
const fLower=[5.13,5.3,4.73];
const gAS=[[-0.5,9.12],[0.5,9.16],[0,8.95],[0,8.25],[-0.5,7.96],[0.5,8],[1.5,8.06],[0,7.76],[-0.5,7.57],[0.5,7.58],[-1.5,7.43],[-0.5,7.37],[0.5,7.37],[-0.5,7.06],[0.5,6.99],[-0.5,6.84],[1.5,6.83],[0.5,6.74],[-3.5,6.63],[-2.5,6.62],[-1.5,6.63],[-0.5,6.62],[0.5,6.62],[1.5,6.59],[3.5,6.6],[-0.5,6.48],[0.5,6.5],[1.5,6.44],[-0.5,6.31],[0.5,6.35],[0,6.08],[-0.5,5.86],[-0.5,5.68],[0.5,5.73],[0,5.52],[-0.5,5.14],[0.5,5.17],[-1.5,4.89],[-0.5,4.77],[0.5,4.77],[0,4.56],[0,4.23]];
const gAF=[[0,8.24],[2,7.78],[-2,7.63],[2,7.62],[0,7.49],[0,7.11],[2,7.13],[-2,7.04],[0,6.93],[2,6.94],[0,6.76],[-2,6.65],[2,6.69],[0,6.07],[-1,5.5],[1,5.44],[0,4.94]];
const gTIA=[[0,9.23],[-1.5,8.73],[-0.5,8.75],[1.5,8.65],[2.5,8.69],[-1.5,8.57],[-0.5,8.55],[0.5,8.55],[-1.5,8.38],[-0.5,8.41],[0.5,8.38],[1.5,8.44],[-1.5,8.23],[-0.5,8.28],[0.5,8.28],[1.5,8.26],[-0.5,8.11],[0.5,8.08],[1.5,8.07],[-1.5,7.96],[-2.5,7.91],[1.5,7.91],[2.5,7.88],[-1.5,7.8],[-0.5,7.79],[0.5,7.75],[1.5,7.74],[-2.5,7.74],[2.5,7.69],[-1.5,7.61],[-0.5,7.56],[-3.5,7.46],[-2.5,7.5],[-1.5,7.39],[-0.5,7.44],[0.5,7.42],[1.5,7.38],[2.5,7.43],[3.5,7.46],[-2.5,7.31],[-0.5,7.27],[0.5,7.25],[1.5,7.2],[-0.5,7.02],[-1.5,6.94],[0.5,7.02],[-0.5,6.76],[0.5,6.79],[1.5,6.84],[-1,6.5],[0,6.5],[1,6.46],[0,6.23],[-1.5,5.6],[-0.5,5.64],[0.5,5.55],[1.5,5.57],[-0.5,5.28],[1.5,5.26],[0.5,5.13],[0,4.71],[0.5,4.37],[-0.5,4.25]];
const gMeans=[6.67,6.87,7.29];
const gUpper=[7.89,7.77,8.46];
const gLower=[5.44,5.98,6.11];

// Illustration tables (panel A)
const microarrayRows=['dkdddbdddbg','ldgkwddnddd','dkndndkggdn','ldndbddbdwd','ddddbddbndd','kgkndnddddb','wdbndlddnbk','ddkkdgdngld','bnbdddbdwgd','gddldgdnddk'];
const bulkRows=['RRRGLs','rRpLGL','RpLGLG','LrLsGL','pGpsDG','RRRGLG','RRRDGG','LRpGGs'];

const NS='http://www.w3.org/2000/svg';
function mk(parent,tag,attrs,txt){
  const el=document.createElementNS(NS,tag);
  for(const k in attrs){el.setAttribute(k,attrs[k]);}
  if(txt!==undefined){el.textContent=txt;}
  parent.appendChild(el);
  return el;
}

// ---------- Scatter panels ----------
const fractionY=v=>1148.3-v*7.58;
function drawScatter(panelId,axisX,xEnd,xAt,xTicks,blue,red,blueFit,redFit,legendX,legendY1,legendY2){
  const root=document.getElementById(panelId);
  const yAxis=mk(root,'line',{x1:axisX,x2:axisX,y1:fractionY(50),y2:fractionY(0)+1,stroke:'#000','stroke-width':2.2});
  
  
  const xAxis=mk(root,'line',{x1:axisX-7,x2:xEnd,y1:fractionY(0),y2:fractionY(0),stroke:'#000','stroke-width':2.2});
  
  
  fractionTicks.forEach(t=>{
    const tick=mk(root,'line',{x1:axisX-7,x2:axisX,y1:fractionY(t),y2:fractionY(t),stroke:'#000','stroke-width':2.2});
    
    
    const lab=mk(root,'text',{x:axisX-10,y:fractionY(t)+9.5,'text-anchor':'end','font-size':27},String(t));
    
    
  });
  xTicks.forEach(t=>{
    const tick=mk(root,'line',{x1:xAt(t),x2:xAt(t),y1:fractionY(0),y2:fractionY(0)+7,stroke:'#000','stroke-width':2.2});
    
    
    const lab=mk(root,'text',{x:xAt(t),y:1178,'text-anchor':'middle','font-size':27},String(t));
    
    
  });
  blue.forEach(p=>{
    const dot=mk(root,'circle',{cx:xAt(p[0]),cy:fractionY(p[1]),r:3.4,fill:'#1a1aff','fill-opacity':0.82});
    
    
  });
  red.forEach(p=>{
    const dot=mk(root,'circle',{cx:xAt(p[0]),cy:fractionY(p[1]),r:3.4,fill:'#ff1a1a','fill-opacity':0.82});
    
    
  });
  const bl=mk(root,'line',{x1:xAt(blueFit[0][0]),y1:fractionY(blueFit[0][1]),x2:xAt(blueFit[1][0]),y2:fractionY(blueFit[1][1]),stroke:'#0000ff','stroke-width':2.2});
  
  
  const rl=mk(root,'line',{x1:xAt(redFit[0][0]),y1:fractionY(redFit[0][1]),x2:xAt(redFit[1][0]),y2:fractionY(redFit[1][1]),stroke:'#ff0000','stroke-width':2.2});
  
  
  [[legendY1,'#0000ff'],[legendY2,'#ff0000']].forEach(item=>{
    const ln=mk(root,'line',{x1:legendX,x2:legendX+23,y1:item[0],y2:item[0],stroke:item[1],'stroke-width':2.2});
    
    
    const md=mk(root,'circle',{cx:legendX+11.5,cy:item[0],r:3.3,fill:item[1]});
    
    
  });
}
drawScatter('panel-b1',115,494,v=>132+(v-4)*86,gria1Ticks,b1DiffSmc,b1ModSmc,b1DiffFit,b1ModFit,133,769.3,830.7);
drawScatter('panel-b2',610,989,v=>685+(v-4)*50.6,gria2Ticks,b2DiffSmc,b2ModSmc,b2DiffFit,b2ModFit,626,769.3,830.7);
drawScatter('panel-c1',1115.7,1495,v=>1132.7+(v-4)*86.25,gria1Ticks,c1TCell,c1Macrophage,c1TCellFit,c1MacFit,1135,769.3,829.3);
drawScatter('panel-c2',1610.7,1990,v=>1686+(v-4)*50.55,gria2Ticks,c2TCell,c2Macrophage,c2TCellFit,c2MacFit,1629,769.3,830);

// ---------- Group panels ----------
const levelY=v=>1336+(10-v)*54.5;
const zeroY=1772;
function drawGroups(panelId,axisX,xEnd,catX,groups,steps,means,upper,lower){
  const root=document.getElementById(panelId);
  const axisTop=mk(root,'line',{x1:axisX,x2:axisX,y1:levelY(10),y2:1726,stroke:'#000','stroke-width':2.2});
  
  
  const axisLow=mk(root,'line',{x1:axisX,x2:axisX,y1:1739,y2:zeroY,stroke:'#000','stroke-width':2.2});
  
  
  [1726,1739].forEach(y=>{
    const br=mk(root,'line',{x1:axisX-12,x2:axisX+10.5,y1:y,y2:y,stroke:'#000','stroke-width':3});
    
    
  });
  const xAxis=mk(root,'line',{x1:axisX-10,x2:xEnd,y1:zeroY,y2:zeroY,stroke:'#000','stroke-width':2.2});
  
  
  logTicks.forEach(t=>{
    const tick=mk(root,'line',{x1:axisX-10,x2:axisX,y1:levelY(t),y2:levelY(t),stroke:'#000','stroke-width':2.2});
    
    
    const lab=mk(root,'text',{x:axisX-13,y:levelY(t)+10,'text-anchor':'end','font-size':27.5},String(t));
    
    
  });
  const zeroLab=mk(root,'text',{x:axisX-13,y:zeroY+10,'text-anchor':'end','font-size':27.5},'0');
  
  
  groups.forEach((g,i)=>{
    g.forEach(p=>{
      const dot=mk(root,'circle',{cx:catX[i]+p[0]*steps[i],cy:levelY(p[1]),r:4.3,fill:'#a4a4aa'});
      
      
    });
    const errBar=mk(root,'path',{fill:'none',stroke:'#000','stroke-width':2.4,
      d:'M'+catX[i]+','+levelY(upper[i])+'V'+levelY(lower[i])+
        'M'+(catX[i]-17)+','+levelY(upper[i])+'H'+(catX[i]+17)+
        'M'+(catX[i]-17)+','+levelY(lower[i])+'H'+(catX[i]+17)+
        'M'+(catX[i]-34.5)+','+levelY(means[i])+'H'+(catX[i]+34.5)});
    
    
    const tick=mk(root,'line',{x1:catX[i],x2:catX[i],y1:zeroY,y2:zeroY+9,stroke:'#000','stroke-width':2.2});
    
    
    const lab=mk(root,'text',{transform:'translate('+(catX[i]+10)+','+(zeroY+26)+') rotate(-45)','text-anchor':'end','font-size':27.5},groupNames[i]);
    
    
  });
}
drawGroups('panel-d',126.7,440,[177.7,282,386.3],[dAS,dAF,dTIA],[10,9,10],dMeans,dUpper,dLower);
drawGroups('panel-e',647,960.7,[698,802.3,906.3],[eAS,eAF,eTIA],[7.67,9,6],eMeans,eUpper,eLower);
drawGroups('panel-f',1164,1477.7,[1215.3,1319.3,1423.7],[fAS,fAF,fTIA],[6,9,7.57],fMeans,fUpper,fLower);
drawGroups('panel-g',1674,1988,[1725.7,1830,1934],[gAS,gAF,gTIA],[8.67,8.9,8.67],gMeans,gUpper,gLower);

// ---------- Panel A illustrations ----------
const spotColors={d:'#1f8a1f',k:'#1f4020',n:'#0c300c',g:'#555558',b:'#2bdd1e',l:'#8cfc7c',w:'#b8f0b0'};
const microRoot=document.getElementById('microarray');
const microBg=mk(microRoot,'rect',{x:569,y:87.5,width:229.5,height:199,fill:'#000'});


microarrayRows.forEach((row,r)=>{
  row.split('').forEach((c,i)=>{
    const spot=mk(microRoot,'ellipse',{cx:580.4+i*20.67,cy:100+r*19.55,rx:9,ry:8.3,fill:spotColors[c]});
    
    
  });
});
const bulkColors={R:'#d01818',r:'#e83030',p:'#f79a9a',s:'#ff8080',G:'#38862c',L:'#b8f4b0',D:'#4a7a40'};
const bulkRoot=document.getElementById('bulkmap');
const bulkBg=mk(bulkRoot,'rect',{x:974.5,y:87.5,width:232.5,height:201.5,fill:'#111'});


bulkRows.forEach((row,r)=>{
  row.split('').forEach((c,i)=>{
    const cell=mk(bulkRoot,'rect',{x:978.5+i*38.1,y:92+r*24.8,width:34,height:19.8,fill:bulkColors[c]});
    
    
  });
});
function blobPath(cx,cy,rx,ry,k,phase,f){
  let d='';
  for(let n=0;n<96;n++){
    const a=n/96*Math.PI*2;
    const m=1+k*Math.sin(a*f+phase)+k*0.5*Math.sin(a*(f+4)+phase*2);
    d+=(n?'L':'M')+(cx+Math.cos(a)*rx*m).toFixed(1)+','+(cy+Math.sin(a)*ry*m).toFixed(1);
  }
  return d+'Z';
}
function macrophage(root,cx,cy,rx,ry,nx,ny,nrx,nry){
  const outer=mk(root,'path',{d:blobPath(cx,cy,rx,ry,0.035,1,11),fill:'#b59ad8',stroke:'#111','stroke-width':2.2});
  
  
  const core=mk(root,'path',{d:blobPath(nx,ny,nrx,nry,0.07,2,5),fill:'#6a2ca0',stroke:'#8a5abd','stroke-width':2.5});
  
  
}
function smcCell(root,cx,cy,rx,ry){
  const outer=mk(root,'ellipse',{cx:cx,cy:cy,rx:rx,ry:ry,fill:'#92cf88',stroke:'#111','stroke-width':2.2});
  
  
  const core=mk(root,'ellipse',{cx:cx,cy:cy,rx:rx*0.68,ry:ry*0.7,fill:'#2d7a30',stroke:'#1e5a22','stroke-width':1});
  
  
}
function mitoCell(root,cx,cy,rx,ry,rot,nucOffset){
  const g=mk(root,'g',{transform:'rotate('+rot+' '+cx+' '+cy+')'});
  
  
  mk(g,'ellipse',{cx:cx,cy:cy,rx:rx,ry:ry,fill:'#f3a5b0',stroke:'#8a3a44','stroke-width':1.6});
  [-0.6,-0.3,0.3,0.6].forEach(f=>{
    mk(g,'ellipse',{cx:cx+f*rx,cy:cy,rx:rx*0.14,ry:ry*0.9,fill:'none',stroke:'#e58e9c','stroke-width':1.2});
  });
  mk(g,'rect',{x:cx+nucOffset*rx-rx*0.3,y:cy-ry*0.65,width:rx*0.6,height:ry*1.3,rx:rx*0.13,fill:'#e26e80',stroke:'#a84a5a','stroke-width':1});
}
const pile=document.getElementById('cellpile');
macrophage(pile,605,612,43,31,606.7,610,28,21);
macrophage(pile,713.3,625,41,37,715,625,28,24);
smcCell(pile,670,606.7,27,23);
smcCell(pile,618,531.7,27,27.5);
smcCell(pile,731.7,528,28,27);
mitoCell(pile,743.3,576.7,47.5,19,12,-0.75);
macrophage(pile,673.3,548,43,37.5,676.7,555,25,26);
mitoCell(pile,671.7,492.7,60,20,-3,-0.05);
mitoCell(pile,605,577.3,60,20,0,-0.15);
const icons=document.getElementById('legendcells');
smcCell(icons,1609.4,478.6,20,20);
macrophage(icons,1679.5,473,24,22,1680,474,13,13);
mitoCell(icons,1747.6,474,40,17,-28,0);
</script>
</body>
</html>
